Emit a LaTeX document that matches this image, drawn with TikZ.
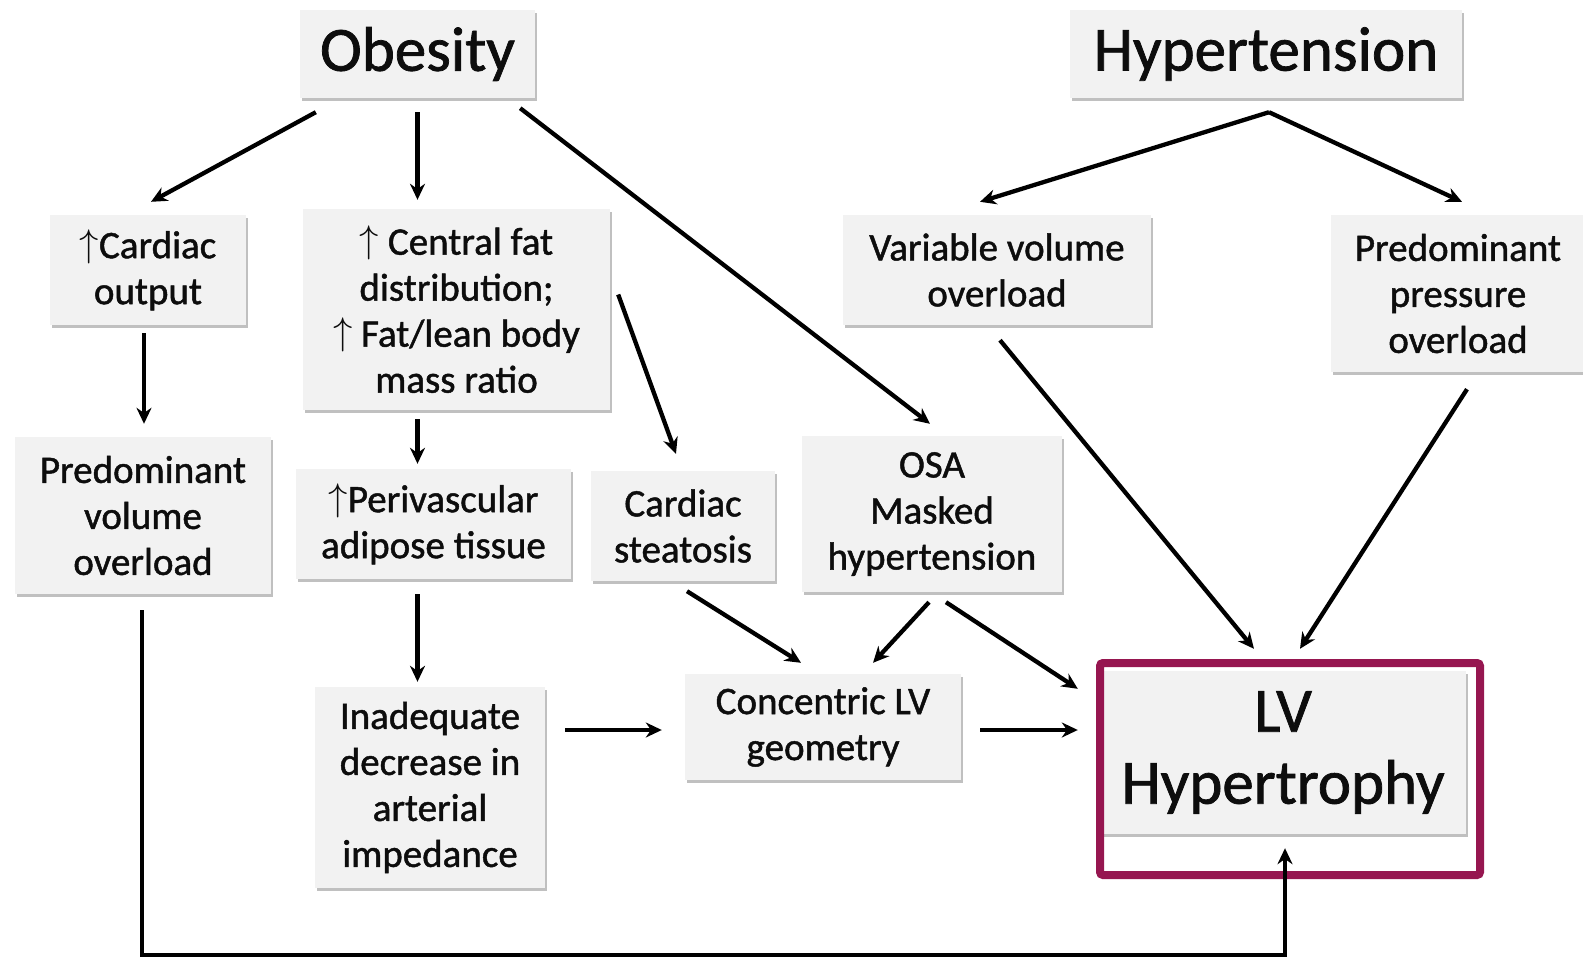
\documentclass[tikz,border=0pt]{standalone}
\usepackage{fontspec}
\setmainfont{Carlito}[FakeBold=1.2]
\usepackage{tikz}
\usetikzlibrary{arrows.meta,shapes,positioning,calc,shadows}
\usepackage{xcolor}
\usepackage{graphicx}
\definecolor{boxgray}{HTML}{F2F2F2}
\definecolor{framered}{HTML}{961650}
\newcommand{\up}{\raisebox{0.1ex}{\scalebox{1.55}{$\uparrow$}}}

\begin{document}
\begin{tikzpicture}[x=1pt, y=-1pt,
    box/.style={fill=boxgray, align=center, inner sep=0pt, text=black!95,
        drop shadow={shadow xshift=2pt, shadow yshift=-3pt, opacity=0.55, fill=black!45},
        font=\fontsize{39}{46}\selectfont},
    bigbox/.style={box, font=\fontsize{63}{72}\selectfont},
    arr/.style={-{Stealth[length=16pt,width=15pt]}, line width=4.3pt}]
    \useasboundingbox (0,0) rectangle (1583,960);
    % top level
    \node[bigbox, minimum width=235pt, minimum height=88pt] (obesity) at (417.5,54) {Obesity};
    \node[bigbox, minimum width=392pt, minimum height=88pt] (hyper) at (1266,54) {Hypertension};
    % second row
    \node[box, minimum width=196pt, minimum height=110pt] (cardiac) at (148,270) {\up Cardiac\\output};
    \node[box, minimum width=307pt, minimum height=201pt] (central) at (456.5,309.5) {\up\ Central fat\\distribution;\\\up\ Fat/lean body\\mass ratio};
    \node[box, minimum width=308pt, minimum height=110pt] (variable) at (997,270) {Variable volume\\overload};
    \node[box, minimum width=254pt, minimum height=157pt] (pressure) at (1458,293.5) {Predominant\\pressure\\overload};
    % third row
    \node[box, minimum width=256pt, minimum height=157pt] (predvol) at (143,515.5) {Predominant\\volume\\overload};
    \node[box, minimum width=275pt, minimum height=110pt] (perivasc) at (433.5,524) {\up Perivascular\\adipose tissue};
    \node[box, minimum width=184pt, minimum height=110pt] (steatosis) at (683,526) {Cardiac\\steatosis};
    \node[box, minimum width=260pt, minimum height=156pt] (osa) at (932,514) {OSA\\Masked\\hypertension};
    % bottom
    \node[box, minimum width=230pt, minimum height=201pt] (inadequate) at (430,787.5) {Inadequate\\decrease in\\arterial\\impedance};
    \node[box, minimum width=276pt, minimum height=106pt] (concentric) at (823,727) {Concentric LV\\geometry};
    \node[bigbox, minimum width=366pt, minimum height=163pt] (lvh) at (1283,752.5) {LV\\Hypertrophy};
    \node[draw=framered, line width=8pt, rounded corners=3pt, minimum width=380pt, minimum height=212pt] (frame) at (1290,769) {};

    % arrows
    \draw[arr] ([xshift=16pt,yshift=-14pt]obesity.south west) -- ([xshift=3pt,yshift=13pt]cardiac.north);
    \draw[arr] ([yshift=-14pt]obesity.south) -- ([yshift=9pt]obesity.south |- central.north);
    \draw[arr] ([xshift=-15pt,yshift=-10pt]obesity.south east) -- ([xshift=-2pt,yshift=12pt]osa.north);
    \draw[arr] ([xshift=3pt,yshift=-14pt]hyper.south) -- ([xshift=-17pt,yshift=13pt]variable.north);
    \draw[arr] ([xshift=3pt,yshift=-14pt]hyper.south) -- ([xshift=4pt,yshift=13pt]pressure.north);
    \draw[arr] ([xshift=-4pt,yshift=-8pt]cardiac.south) -- ([xshift=1pt,yshift=13pt]predvol.north);
    \draw[arr] ([yshift=-9pt]obesity.south |- central.south) -- ([yshift=5pt]obesity.south |- perivasc.north);
    \draw[arr] ([xshift=8pt,yshift=15pt]central.east) -- ([xshift=-7pt,yshift=17pt]steatosis.north);
    \draw[arr] ([yshift=-15pt]obesity.south |- perivasc.south) -- ([yshift=5pt]obesity.south |- inadequate.north);
    \draw[arr] ($(inadequate.east |- concentric.west)+(20,3)$) -- ($(concentric.west)+(-23,3)$);
    \draw[arr] ([xshift=4pt,yshift=-10pt]steatosis.south) -- ([xshift=-22pt,yshift=11pt]concentric.north);
    \draw[arr] ([xshift=-3pt,yshift=-10pt]osa.south) -- ([xshift=50pt,yshift=11pt]concentric.north);
    \draw[arr] ([xshift=14pt,yshift=-10pt]osa.south) -- ([xshift=-22pt,yshift=-18pt]lvh.north west);
    \draw[arr] ($(concentric.east)+(19,3)$) -- ($(lvh.west |- concentric.east)+(-22,3)$);
    \draw[arr] ([xshift=3pt,yshift=-15pt]variable.south) -- ([xshift=-29pt,yshift=22pt]lvh.north);
    \draw[arr] ([xshift=9pt,yshift=-17pt]pressure.south) -- ([xshift=17pt,yshift=22pt]lvh.north);
    \draw[arr] ([xshift=-1pt,yshift=-16pt]predvol.south) -- ++(0,345) -| ([xshift=2pt,yshift=-14pt]lvh.south);
\end{tikzpicture}
\end{document}
